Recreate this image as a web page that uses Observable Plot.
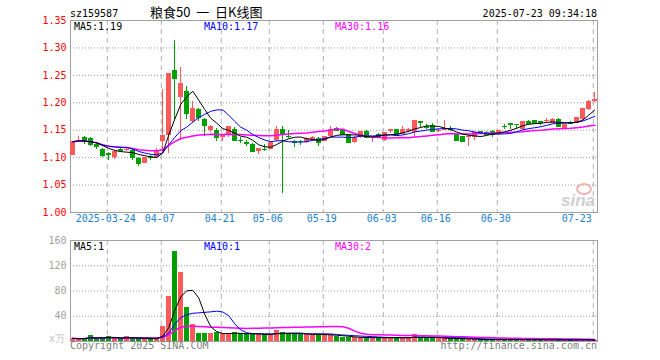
<!DOCTYPE html>
<html><head><meta charset="utf-8">
<script src="https://cdn.jsdelivr.net/npm/d3@7"></script>
<script src="https://cdn.jsdelivr.net/npm/@observablehq/plot@0.6"></script>
<style>
body{margin:0;background:#fff;}
#wrap{position:relative;width:660px;height:360px;overflow:hidden;font-family:"DejaVu Sans Mono",monospace;background:#fff;}
.t{position:absolute;white-space:pre;font-size:10px;line-height:10px;}
#price,#vol{position:absolute;left:0;}
#price{top:0;}
#vol{top:232px;}
</style></head><body>
<div id="wrap">
  <div id="price"></div>
  <div id="vol"></div>
  <div class="t" style="left:70px;top:8.5px;color:#000">sz159587</div>
  <div class="t" style="left:150px;top:5px;font-size:13px;line-height:13px;font-family:'Noto Sans CJK SC',sans-serif;color:#000">粮食50  一  日K线图</div>
  <div class="t" style="right:63px;top:8.5px;color:#000">2025-07-23 09:34:18</div>
  <div class="t" style="left:74px;top:21.5px;color:#000">MA5:1.19</div>
  <div class="t" style="left:204px;top:21.5px;color:#0000ff">MA10:1.17</div>
  <div class="t" style="left:335px;top:21.5px;color:#ff00ff">MA30:1.16</div>
  <div class="t" style="left:74px;top:241.5px;color:#000">MA5:1</div>
  <div class="t" style="left:204px;top:241.5px;color:#0000ff">MA10:1</div>
  <div class="t" style="left:335px;top:241.5px;color:#ff00ff">MA30:2</div>
  <div class="t" style="right:595px;top:334px;color:#c0c0c0">x万</div>
  <div class="t" style="left:70px;top:340.5px;color:#808080">Copyright 2025 SINA.COM</div>
  <div class="t" style="right:63px;top:340.5px;color:#808080">http://finance.sina.com.cn</div>
  <div class="t" style="left:576px;top:183px;width:12px;height:8px;border:2px solid #f6b0b0;border-radius:50%;"></div>
  <div class="t" style="left:561px;top:191px;font:italic bold 17px 'Liberation Sans',sans-serif;color:#cfcfcf">sina</div>
</div>
<script>
// ---- data ----
const open  = [1.104,1.131,1.137,1.135,1.124,1.115,1.107,1.100,1.114,1.113,1.113,1.099,1.090,1.102,1.100,1.129,1.140,1.258,1.210,1.221,
               1.166,1.188,1.170,1.150,1.149,1.137,1.140,1.152,1.132,1.127,1.124,1.112,1.115,1.115,1.131,1.151,1.139,1.129,1.130,1.127,
               1.131,1.135,1.130,1.138,1.154,1.151,1.142,1.128,1.136,1.148,1.137,1.142,1.132,1.147,1.151,1.143,1.148,1.146,1.165,1.156,
               1.158,1.147,1.150,1.153,1.142,1.138,1.137,1.137,1.147,1.146,1.148,1.143,1.157,1.162,1.161,1.151,1.166,1.168,1.165,1.167,
               1.163,1.170,1.154,1.164,1.163,1.169,1.187,1.203];
const high  = [1.129,1.139,1.138,1.136,1.125,1.116,1.110,1.113,1.117,1.117,1.114,1.100,1.101,1.103,1.116,1.224,1.254,1.314,1.265,1.230,
               1.202,1.189,1.171,1.159,1.154,1.142,1.157,1.155,1.137,1.131,1.125,1.117,1.124,1.128,1.157,1.157,1.149,1.131,1.132,1.136,
               1.139,1.136,1.139,1.157,1.155,1.152,1.143,1.138,1.148,1.149,1.139,1.144,1.146,1.152,1.152,1.157,1.153,1.168,1.166,1.160,
               1.163,1.152,1.168,1.157,1.144,1.139,1.140,1.147,1.148,1.147,1.149,1.150,1.160,1.162,1.161,1.166,1.167,1.168,1.166,1.171,
               1.171,1.171,1.161,1.166,1.174,1.190,1.205,1.218];
const low   = [1.104,1.127,1.124,1.121,1.115,1.101,1.095,1.096,1.110,1.112,1.094,1.083,1.089,1.094,1.099,1.108,1.108,1.168,1.132,1.169,
               1.162,1.166,1.138,1.146,1.130,1.130,1.136,1.130,1.125,1.120,1.110,1.105,1.112,1.114,1.130,1.035,1.134,1.119,1.122,1.125,
               1.130,1.121,1.129,1.137,1.147,1.141,1.127,1.125,1.135,1.134,1.128,1.136,1.130,1.144,1.139,1.142,1.146,1.137,1.155,1.151,
               1.146,1.146,1.149,1.148,1.130,1.127,1.121,1.131,1.142,1.140,1.137,1.141,1.152,1.152,1.151,1.150,1.161,1.161,1.159,1.162,
               1.162,1.156,1.153,1.160,1.162,1.168,1.186,1.201];
const close = [1.129,1.132,1.130,1.124,1.120,1.104,1.106,1.112,1.113,1.115,1.100,1.089,1.101,1.101,1.111,1.140,1.254,1.245,1.236,1.181,
               1.189,1.173,1.159,1.157,1.136,1.140,1.157,1.132,1.131,1.126,1.112,1.116,1.114,1.127,1.151,1.142,1.138,1.128,1.129,1.134,
               1.137,1.128,1.138,1.151,1.149,1.142,1.128,1.137,1.148,1.136,1.138,1.138,1.146,1.151,1.140,1.151,1.152,1.168,1.164,1.155,
               1.148,1.150,1.152,1.152,1.131,1.130,1.139,1.146,1.146,1.142,1.142,1.149,1.156,1.161,1.160,1.165,1.162,1.162,1.164,1.168,
               1.170,1.157,1.160,1.163,1.173,1.189,1.203,1.206];
const volume = [5,4,5,9.5,5,5,8,5,4,8,4,5,4,4,5,24,72,143,109,54,
                27,12,12,12,15,12,12,14,12,12,11,11,11,11,18,14,12,12,11,11,
                11,11,11,9,8,7,6.5,6,6,6,6,6,6,6,6,6,6,10.5,6,5.5,
                5.5,5,5,4.5,4.5,4,3,3,3,3,3,3,3,3,2.8,3,2.8,2.8,2.5,2.5,
                2.5,2.5,2.5,2.5,2.5,2.8,2.8,1];
const tickIndex  = [6, 15, 25, 33, 42, 52, 61, 71, 87];
const tickLabels = ["2025-03-24","04-07","04-21","05-06","05-19","06-03","06-16","06-30","07-23"];
const priceTicks = [1.00,1.05,1.10,1.15,1.20,1.25,1.30,1.35];
const priceGrid  = [1.05,1.10,1.15,1.20,1.25,1.30];
const volTicks   = [40,80,120,160];
const volGrid    = [40,80,120];

// ---- build table ----
const RED = "#fa5a5a", GREEN = "#00a000";
const rows = close.map((c, i) => ({
  i, open: open[i], high: high[i], low: low[i], close: c, vol: volume[i],
  col: c >= open[i] ? RED : GREEN
}));
const ticks = tickIndex.map((i, k) => ({i, label: tickLabels[k]}));
const xDomain = [-0.38, 87.45];
const font = {fontFamily: "DejaVu Sans Mono, monospace", fontSize: "10px", background: "transparent", overflow: "visible"};
const half = 0.4;

const price = Plot.plot({
  width: 660, height: 232,
  marginLeft: 70, marginRight: 63, marginTop: 20, marginBottom: 20,
  x: {domain: xDomain, axis: null},
  y: {domain: [1.0, 1.35], axis: null},
  color: {type: "identity"},
  style: font,
  marks: [
    Plot.ruleY(priceGrid, {stroke: "#999", strokeDasharray: "1,2"}),
    Plot.ruleX(tickIndex, {dx: -1.5, stroke: "#b0b0b0", strokeDasharray: "5,4"}),
    Plot.frame({stroke: "#a0a0a0"}),
    Plot.ruleX(rows, {x: "i", y1: "low", y2: "high", stroke: "col", shapeRendering: "crispEdges"}),
    Plot.rect(rows, {x1: d => d.i - half, x2: d => d.i + half, y1: "open", y2: "close", fill: "col", shapeRendering: "crispEdges"}),
    Plot.link(rows, {x1: d => d.i - half, x2: d => d.i + half, y1: "close", y2: "close", stroke: "col", shapeRendering: "crispEdges"}),
    Plot.lineY(rows, Plot.windowY({k: 30, anchor: "end", reduce: "mean"}, {x: "i", y: "close", stroke: "#ff00ff", strokeWidth: 1.5})),
    Plot.lineY(rows, Plot.windowY({k: 10, anchor: "end", reduce: "mean"}, {x: "i", y: "close", stroke: "#0000ff", strokeWidth: 1})),
    Plot.lineY(rows, Plot.windowY({k: 5, anchor: "end", reduce: "mean"}, {x: "i", y: "close", stroke: "#000", strokeWidth: 1})),
    Plot.axisY(priceTicks, {tickSize: 0, tickPadding: 4, tickFormat: d3.format(".2f"), fill: "#f00", label: null, fontSize: 10}),
    Plot.text(ticks.slice(0, -1), {x: "i", text: "label", frameAnchor: "bottom", dy: 9.5, dx: -3, fill: "#1a7fd0"}),
    Plot.text(ticks.slice(-1), {x: "i", text: "label", frameAnchor: "bottom", dy: 9.5, dx: -3, textAnchor: "end", fill: "#1a7fd0"})
  ]
});
document.getElementById("price").append(price);

const vol = Plot.plot({
  width: 660, height: 128,
  marginLeft: 70, marginRight: 63, marginTop: 8, marginBottom: 19,
  x: {domain: xDomain, axis: null},
  y: {domain: [0, 160], axis: null},
  color: {type: "identity"},
  style: font,
  marks: [
    Plot.ruleY(volGrid, {stroke: "#999", strokeDasharray: "1,2"}),
    Plot.ruleX(tickIndex, {dx: -1.5, stroke: "#b0b0b0", strokeDasharray: "5,4"}),
    Plot.rectY(rows, {x1: d => d.i - half, x2: d => d.i + half, y: "vol", fill: "col", shapeRendering: "crispEdges"}),
    Plot.lineY(rows, Plot.windowY({k: 30, anchor: "end", reduce: "mean"}, {x: "i", y: "vol", stroke: "#ff00ff", strokeWidth: 1.5})),
    Plot.lineY(rows, Plot.windowY({k: 10, anchor: "end", reduce: "mean"}, {x: "i", y: "vol", stroke: "#0000ff", strokeWidth: 1})),
    Plot.lineY(rows, Plot.windowY({k: 5, anchor: "end", reduce: "mean"}, {x: "i", y: "vol", stroke: "#000", strokeWidth: 1})),
    Plot.frame({stroke: "#a0a0a0"}),
    Plot.axisY(volTicks, {tickSize: 0, tickPadding: 4, fill: "#a0a0a0", label: null, fontSize: 10})
  ]
});
document.getElementById("vol").append(vol);
</script>
</body></html>
